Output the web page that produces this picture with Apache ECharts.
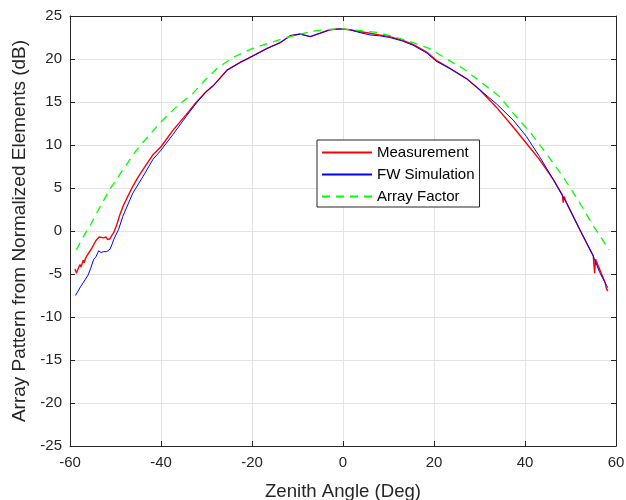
<!DOCTYPE html>
<html>
<head>
<meta charset="utf-8">
<script src="https://cdn.jsdelivr.net/npm/echarts@6/dist/echarts.min.js"></script>
<style>html,body{margin:0;padding:0;background:#fff}#c{width:626px;height:500px}</style>
</head>
<body>
<div id="c"></div>
<script>
const xTicks = [-60, -40, -20, 0, 20, 40, 60];
const yTicks = [-25, -20, -15, -10, -5, 0, 5, 10, 15, 20, 25];
const seriesNames = ['Measurement', 'FW Simulation', 'Array Factor'];

const measurement = [
  [-58.9,-4.4],[-58.6,-4.9],[-58.3,-4.5],[-58.1,-4.7],[-57.8,-3.9],[-57.6,-4.2],[-57.4,-3.9],[-57.1,-3.4],[-56.9,-3.7],[-56.6,-3.2],
  [-56.3,-2.9],[-56.1,-3.1],[-55.8,-2.5],[-55.5,-2.4],[-55.2,-2.0],[-54.8,-1.9],[-54.6,-1.4],[-54.3,-1.1],[-54.0,-1.0],
  [-53.6,-0.7],[-53.2,-0.9],[-52.6,-0.8],[-52.1,-0.7],[-51.7,-1.0],[-51.2,-0.9],[-50.8,-0.5],[-50.4,-0.2],[-49.8,0.6],
  [-49.1,1.8],[-48.4,2.8],[-47.6,3.7],[-46.2,5.2],[-45.1,6.2],[-44.0,7.1],[-41.8,8.85],[-40.0,9.8],[-37.4,11.7],
  [-34.5,13.5],[-32.2,15.0],[-30.1,16.2],[-28.5,16.9],[-25.5,18.7],[-22.6,19.6],[-20.0,20.3],[-16.8,21.2],[-13.8,21.9],
  [-11.6,22.7],[-9.4,22.9],[-7.2,22.6],[-5.0,23.0],[-2.9,23.4],[-0.7,23.5],[1.5,23.4],[3.5,23.2],[5.9,23.0],[8.0,22.8],
  [10.3,22.6],[13.0,22.2],[15.4,21.7],[18.4,20.8],[20.6,19.8],[23.5,18.9],[27.2,17.7],[30.1,16.4],[33.7,14.4],[37.4,12.1],
  [40.3,10.2],[43.2,8.3],[46.2,6.0],[48.2,4.2],[48.4,3.3],[48.6,4.0],[49.1,3.3],[52.0,0.2],[55.0,-2.9],[55.3,-4.9],
  [55.5,-3.3],[57.0,-5.2],[57.6,-6.0],[57.9,-6.7],[58.2,-7.0]
];

const fwSimulation = [
  [-58.8,-7.5],[-57.7,-6.5],[-56.6,-5.6],[-56.0,-5.1],[-55.5,-4.4],[-54.8,-3.3],[-54.3,-3.0],[-53.7,-2.3],[-53.2,-2.5],
  [-52.6,-2.4],[-51.9,-2.4],[-51.2,-2.1],[-50.8,-1.6],[-50.4,-1.0],[-49.3,0.2],[-48.4,1.7],[-46.2,4.4],[-44.0,6.3],
  [-41.8,8.3],[-40.0,9.4],[-37.4,11.2],[-34.5,13.3],[-32.2,14.9],[-30.1,16.2],[-28.5,16.9],[-25.5,18.7],[-22.6,19.6],
  [-20.0,20.3],[-16.8,21.2],[-13.8,21.9],[-11.6,22.7],[-9.4,22.9],[-7.2,22.6],[-5.0,23.0],[-2.9,23.4],[-0.7,23.5],
  [1.5,23.4],[3.5,23.1],[5.9,22.8],[8.0,22.7],[10.3,22.5],[13.0,22.1],[15.4,21.6],[18.4,20.7],[20.6,19.7],[23.5,18.9],
  [27.2,17.7],[30.1,16.4],[33.7,14.8],[37.4,12.9],[40.3,11.0],[43.2,8.65],[46.2,6.0],[49.1,3.3],[52.0,0.2],[55.0,-2.9],
  [56.4,-4.8],[57.9,-6.3],[58.2,-6.6]
];

const arrayFactor = [
  [-58.6,-2.2],[-57.0,-0.6],[-55.3,0.9],[-53.3,2.9],[-51.3,4.8],[-48.4,7.1],[-45.4,9.4],[-42.5,11.2],[-39.6,12.9],
  [-36.7,14.4],[-33.0,16.0],[-30.4,17.5],[-27.7,18.9],[-24.1,20.2],[-20.0,21.2],[-16.0,21.9],[-12.4,22.5],[-9.4,22.9],
  [-5.8,23.3],[-1.4,23.5],[0.0,23.5],[3.7,23.3],[7.4,23.1],[11.8,22.5],[15.4,21.9],[19.1,21.2],[22.8,20.0],[26.4,18.9],
  [30.1,17.4],[34.5,15.6],[37.4,13.7],[41.1,11.5],[44.7,9.0],[48.4,6.3],[52.0,3.3],[55.0,0.6],[57.9,-1.7],[58.5,-2.2]
];

const font = 'Liberation Sans, Arial, Helvetica, sans-serif';
const axisColor = '#262626';
const chart = echarts.init(document.getElementById('c'));
const baseX = { type: 'value', min: xTicks[0], max: xTicks[xTicks.length - 1], interval: 20 };
const baseY = { type: 'value', min: yTicks[0], max: yTicks[yTicks.length - 1], interval: 5 };
const line = { show: true, onZero: false, lineStyle: { color: axisColor, width: 1 } };
const tick = { show: true, inside: true, length: 5, lineStyle: { color: axisColor } };
chart.setOption({
  backgroundColor: '#fff',
  animation: false,
  grid: { left: 70, right: 10, top: 16, bottom: 54, containLabel: false, outerBoundsMode: 'none' },
  legend: {
    orient: 'vertical', left: 317, top: 140,
    data: seriesNames,
    backgroundColor: '#fff', borderColor: axisColor, borderWidth: 1, borderRadius: 0,
    padding: [5, 5, 3, 4], itemGap: 7, itemWidth: 50, itemHeight: 14,
    itemStyle: { opacity: 0 },
    textStyle: { fontFamily: font, fontSize: 15, color: '#000' }
  },
  xAxis: [
    Object.assign({}, baseX, {
      position: 'bottom',
      name: 'Zenith Angle (Deg)', nameLocation: 'middle', nameGap: 36,
      nameTextStyle: { fontFamily: font, fontSize: 18.6, color: axisColor },
      axisLine: line, axisTick: tick,
      axisLabel: { fontFamily: font, fontSize: 15, color: axisColor, margin: 9,
        formatter: v => xTicks.includes(v) ? String(v) : '' },
      splitLine: { show: true, lineStyle: { color: '#e3e3e3', width: 1 } }
    }),
    Object.assign({}, baseX, {
      position: 'top', axisLine: line, axisTick: tick,
      axisLabel: { show: false }, splitLine: { show: false }
    })
  ],
  yAxis: [
    Object.assign({}, baseY, {
      position: 'left',
      name: 'Array Pattern from Normalized Elements (dB)', nameLocation: 'middle', nameGap: 38,
      nameTextStyle: { fontFamily: font, fontSize: 19, color: axisColor },
      axisLine: line, axisTick: tick,
      axisLabel: { fontFamily: font, fontSize: 15, color: axisColor, margin: 8,
        formatter: v => yTicks.includes(v) ? String(v) : '' },
      splitLine: { show: true, lineStyle: { color: '#e3e3e3', width: 1 } }
    }),
    Object.assign({}, baseY, {
      position: 'right', axisLine: line, axisTick: tick,
      axisLabel: { show: false }, splitLine: { show: false }
    })
  ],
  series: [
    { name: seriesNames[0], type: 'line', data: measurement, showSymbol: false, symbol: 'none',
      color: '#ff0000', lineStyle: { color: '#ff0000', width: 1.4 }, z: 2 },
    { name: seriesNames[1], type: 'line', data: fwSimulation, showSymbol: false, symbol: 'none',
      color: '#0000ff', lineStyle: { color: '#0000ff', width: 1 }, z: 3 },
    { name: seriesNames[2], type: 'line', data: arrayFactor, showSymbol: false, symbol: 'none',
      color: '#00ff00', lineStyle: { color: '#00ff00', width: 1.3, type: [8, 6] }, z: 4 }
  ]
});
</script>
</body>
</html>
